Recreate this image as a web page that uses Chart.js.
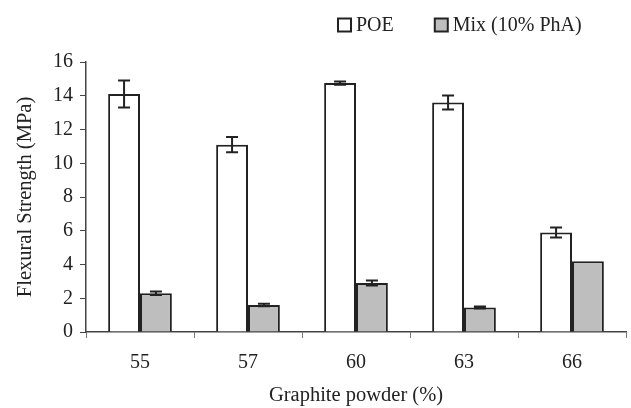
<!DOCTYPE html>
<html>
<head>
<meta charset="utf-8">
<script src="https://cdn.jsdelivr.net/npm/chart.js@4.4.0/dist/chart.umd.min.js"></script>
<style>
html,body{margin:0;padding:0;background:#fff;}
#wrap{width:631px;height:408px;position:relative;}
</style>
</head>
<body>
<div id="wrap"><canvas id="c" width="631" height="408"></canvas></div>
<script>
const categories = ['55', '57', '60', '63', '66'];
const poeValues = [14.1, 11.1, 14.75, 13.6, 5.9];
const poeErrors = [0.8, 0.45, 0.1, 0.42, 0.3];
const mixValues = [2.3, 1.6, 2.9, 1.45, 4.2];
const mixErrors = [0.1, 0.08, 0.15, 0.06, 0];
const yTicks = [0, 2, 4, 6, 8, 10, 12, 14, 16];

const FONT = 'Liberation Serif';
const INK = '#222';

const errorBars = {
  id: 'errorBars',
  afterDatasetsDraw(chart) {
    const ctx = chart.ctx;
    const ys = chart.scales.y;
    chart.data.datasets.forEach((ds, di) => {
      const meta = chart.getDatasetMeta(di);
      ds.errors.forEach((e, i) => {
        if (!e) return;
        const bar = meta.data[i];
        const v = ds.data[i];
        const top = ys.getPixelForValue(v + e);
        const bot = ys.getPixelForValue(v - e);
        ctx.save();
        ctx.strokeStyle = INK;
        ctx.lineWidth = 2;
        ctx.beginPath();
        ctx.moveTo(bar.x, top); ctx.lineTo(bar.x, bot);
        ctx.moveTo(bar.x - 6, top); ctx.lineTo(bar.x + 6, top);
        ctx.moveTo(bar.x - 6, bot); ctx.lineTo(bar.x + 6, bot);
        ctx.stroke();
        ctx.restore();
      });
    });
  }
};

// simple legend drawn from the dataset definitions
const topLegend = {
  id: 'topLegend',
  afterDraw(chart) {
    const ctx = chart.ctx;
    ctx.save();
    ctx.font = '20px ' + FONT;
    ctx.textBaseline = 'middle';
    ctx.textAlign = 'left';
    let x = 338;
    const y = 25;
    chart.data.datasets.forEach(ds => {
      ctx.fillStyle = ds.backgroundColor;
      ctx.fillRect(x, y - 6.5, 13, 13);
      ctx.strokeStyle = INK;
      ctx.lineWidth = 2;
      ctx.strokeRect(x, y - 6.5, 13, 13);
      ctx.fillStyle = INK;
      ctx.fillText(ds.label, x + 18, y + 1);
      x += 18 + ctx.measureText(ds.label).width + 41;
    });
    ctx.restore();
  }
};

new Chart(document.getElementById('c'), {
  type: 'bar',
  data: {
    labels: categories,
    datasets: [
      { label: 'POE', data: poeValues, errors: poeErrors, backgroundColor: '#ffffff', borderColor: INK, borderWidth: 2, categoryPercentage: 0.59, barPercentage: 1.0 },
      { label: 'Mix (10% PhA)', data: mixValues, errors: mixErrors, backgroundColor: '#bebebe', borderColor: INK, borderWidth: 2, categoryPercentage: 0.59, barPercentage: 1.0 }
    ]
  },
  options: {
    responsive: false,
    animation: false,
    devicePixelRatio: 1,
    layout: { padding: { left: 0, right: 5, top: 62, bottom: 0 } },
    plugins: {
      legend: { display: false },
      tooltip: { enabled: false }
    },
    scales: {
      x: {
        offset: true,
        grid: { display: true, drawOnChartArea: false, drawTicks: true, tickLength: 6, offset: true, color: '#777' },
        border: { display: true, color: '#444', width: 1.5 },
        ticks: { color: INK, font: { family: FONT, size: 20 }, padding: 13 },
        title: { display: true, text: 'Graphite powder (%)', color: INK, font: { family: FONT, size: 20.5 }, padding: { top: 4, bottom: 0 } },
        afterFit(s) { s.height = 76; }
      },
      y: {
        min: 0, max: 16,
        afterBuildTicks(s) { s.ticks = yTicks.map(v => ({ value: v })); },
        grid: { display: true, drawOnChartArea: false, drawTicks: true, tickLength: 6, color: '#444' },
        border: { display: true, color: '#444', width: 1.5 },
        ticks: { color: INK, font: { family: FONT, size: 20 }, padding: 7 },
        title: { display: true, text: 'Flexural Strength (MPa)', color: INK, font: { family: FONT, size: 20.5 }, padding: { top: 13, bottom: 4 } },
        afterFit(s) { s.width = 86; }
      }
    }
  },
  plugins: [errorBars, topLegend]
});
</script>
</body>
</html>
